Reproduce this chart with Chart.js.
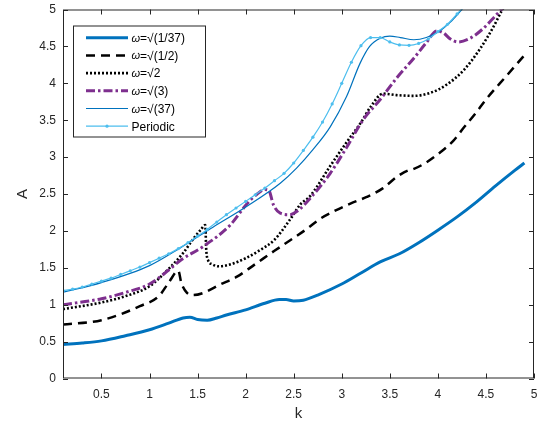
<!DOCTYPE html>
<html>
<head>
<meta charset="utf-8">
<script src="https://cdn.jsdelivr.net/npm/chart.js@4.4.0/dist/chart.umd.min.js"></script>
<style>
  html, body { margin: 0; padding: 0; background: #fff; }
</style>
</head>
<body>
<canvas id="amplitude-chart" width="541" height="430"></canvas>
<script>
// tick positions
const kTicks = [0.5, 1, 1.5, 2, 2.5, 3, 3.5, 4, 4.5, 5];
const aTicks = [0, 0.5, 1, 1.5, 2, 2.5, 3, 3.5, 4, 4.5, 5];

// legend labels
const seriesLabels = ["ω=√(1/37)", "ω=√(1/2)", "ω=√2", "ω=√(3)", "ω=√(37)", "Periodic"];

// omega = sqrt(1/37)
const k1 = [0.1, 0.3, 0.5, 0.75, 1.0, 1.2, 1.35, 1.42, 1.5, 1.6, 1.7, 1.8, 2.0, 2.2, 2.35, 2.42, 2.5, 2.6, 2.75, 3.0, 3.2, 3.4, 3.6, 3.8, 4.0, 4.2, 4.4, 4.6, 4.8, 4.9];
const a1 = [0.46, 0.48, 0.51, 0.58, 0.66, 0.75, 0.82, 0.83, 0.80, 0.79, 0.82, 0.86, 0.93, 1.02, 1.07, 1.07, 1.05, 1.06, 1.13, 1.28, 1.43, 1.58, 1.69, 1.84, 2.01, 2.19, 2.39, 2.61, 2.82, 2.92];

// omega = sqrt(1/2)
const k2 = [0.1, 0.5, 0.9, 1.1, 1.2, 1.3, 1.33, 1.39, 1.45, 1.56, 1.73, 1.91, 2.1, 2.3, 2.46, 2.64, 2.77, 2.91, 3.09, 3.26, 3.43, 3.57, 3.69, 3.73, 3.87, 4.02, 4.16, 4.27, 4.39, 4.5, 4.72, 4.9];
const a2 = [0.73, 0.79, 0.98, 1.12, 1.30, 1.46, 1.30, 1.16, 1.13, 1.16, 1.27, 1.38, 1.55, 1.73, 1.87, 2.03, 2.16, 2.26, 2.37, 2.46, 2.58, 2.73, 2.82, 2.83, 2.92, 3.06, 3.22, 3.40, 3.59, 3.78, 4.11, 4.38];

// omega = sqrt(2)
const k3 = [0.1, 0.5, 0.76, 1.0, 1.21, 1.35, 1.46, 1.53, 1.58, 1.59, 1.61, 1.65, 1.72, 1.85, 2.0, 2.15, 2.3, 2.46, 2.57, 2.67, 2.88, 3.05, 3.2, 3.3, 3.43, 3.57, 3.75, 3.92, 4.09, 4.27, 4.44, 4.58, 4.66, 4.75];
const a3 = [0.94, 1.03, 1.12, 1.25, 1.50, 1.70, 1.90, 2.01, 2.08, 1.75, 1.60, 1.55, 1.52, 1.55, 1.63, 1.74, 1.88, 2.15, 2.36, 2.47, 2.88, 3.20, 3.47, 3.68, 3.86, 3.84, 3.83, 3.87, 3.98, 4.18, 4.47, 4.77, 4.97, 5.15];

// omega = sqrt(3)
const k4 = [0.1, 0.5, 0.76, 1.0, 1.2, 1.32, 1.56, 1.84, 2.01, 2.12, 2.2, 2.24, 2.29, 2.36, 2.46, 2.55, 2.67, 2.88, 3.05, 3.225, 3.4, 3.57, 3.75, 3.88, 3.99, 4.06, 4.13, 4.21, 4.335, 4.47, 4.61, 4.7];
const a4 = [1.0, 1.08, 1.17, 1.28, 1.47, 1.60, 1.79, 2.08, 2.36, 2.50, 2.56, 2.55, 2.35, 2.24, 2.22, 2.28, 2.44, 2.78, 3.13, 3.51, 3.78, 4.07, 4.34, 4.55, 4.71, 4.68, 4.60, 4.56, 4.61, 4.74, 4.93, 5.05];

// omega = sqrt(37)
const k5 = [0.1, 0.5, 1.0, 1.32, 1.66, 2.01, 2.36, 2.53, 2.70, 2.88, 3.05, 3.19, 3.29, 3.40, 3.50, 3.61, 3.75, 3.88, 4.02, 4.13, 4.25, 4.3];
const a5 = [1.17, 1.30, 1.53, 1.77, 2.05, 2.33, 2.645, 2.85, 3.10, 3.41, 3.82, 4.27, 4.50, 4.61, 4.64, 4.62, 4.59, 4.62, 4.71, 4.83, 5.0, 5.07];

// periodic
const k6 = [0.1, 0.2, 0.3, 0.4, 0.5, 0.6, 0.7, 0.8, 0.9, 1.0, 1.1, 1.2, 1.3, 1.4, 1.5, 1.6, 1.7, 1.8, 1.9, 2.0, 2.1, 2.2, 2.3, 2.4, 2.5, 2.6, 2.7, 2.8, 2.9, 3.0, 3.1, 3.2, 3.3, 3.4, 3.5, 3.6, 3.7, 3.8, 3.9, 4.0, 4.1, 4.2, 4.3];
const a6 = [1.19, 1.21, 1.24, 1.28, 1.32, 1.36, 1.41, 1.46, 1.51, 1.57, 1.63, 1.69, 1.76, 1.84, 1.93, 2.02, 2.12, 2.22, 2.31, 2.40, 2.49, 2.58, 2.68, 2.78, 2.92, 3.09, 3.27, 3.475, 3.72, 4.0, 4.285, 4.51, 4.62, 4.62, 4.56, 4.52, 4.515, 4.54, 4.60, 4.70, 4.80, 4.94, 5.08];

const axisColor = "#262626";
const fontFamily = "'Liberation Sans', Arial, sans-serif";

function toPoints(ks, as) {
  return ks.map((k, i) => ({ x: k, y: as[i] }));
}

const styles = [
  { color: "#0072BD", width: 3, dash: [] },
  { color: "#000000", width: 2.5, dash: [9, 6] },
  { color: "#000000", width: 2.6, dash: [2, 2] },
  { color: "#7E2F8E", width: 3, dash: [9, 3, 2.5, 3] },
  { color: "#0072BD", width: 1.2, dash: [] },
  { color: "#4DBEEE", width: 1.2, dash: [] },
];

const series = [[k1, a1], [k2, a2], [k3, a3], [k4, a4], [k5, a5], [k6, a6]];

const datasets = series.map(([ks, as], i) => ({
  label: seriesLabels[i],
  data: toPoints(ks, as),
  borderColor: styles[i].color,
  backgroundColor: styles[i].color,
  borderWidth: styles[i].width,
  borderDash: styles[i].dash,
  pointRadius: i === 5 ? 1.6 : 0,
  pointBorderWidth: 0,
  pointBackgroundColor: styles[i].color,
  cubicInterpolationMode: "monotone",
  fill: false,
  order: 5 - i,
}));

// box, inward ticks and legend drawn inside the plot (MATLAB look)
const matlabFrame = {
  id: "matlabFrame",
  afterDraw(chart) {
    const { ctx, chartArea: area, scales } = chart;
    ctx.save();
    ctx.strokeStyle = axisColor;
    ctx.lineWidth = 1;
    ctx.setLineDash([]);
    ctx.strokeRect(area.left + 0.5, area.top + 0.5, area.width - 1, area.height - 1);

    const tick = 5;
    ctx.beginPath();
    scales.x.ticks.forEach((t) => {
      const px = Math.round(scales.x.getPixelForValue(t.value)) + 0.5;
      ctx.moveTo(px, area.bottom);
      ctx.lineTo(px, area.bottom - tick);
      ctx.moveTo(px, area.top);
      ctx.lineTo(px, area.top + tick);
    });
    scales.y.ticks.forEach((t) => {
      const py = Math.round(scales.y.getPixelForValue(t.value)) + 0.5;
      ctx.moveTo(area.left, py);
      ctx.lineTo(area.left + tick, py);
      ctx.moveTo(area.right, py);
      ctx.lineTo(area.right - tick, py);
    });
    ctx.stroke();

    // legend
    const bx = area.left + 10.5;
    const by = area.top + 16.5;
    const bw = 132;
    const bh = 111;
    ctx.fillStyle = "#ffffff";
    ctx.fillRect(bx, by, bw, bh);
    ctx.strokeStyle = axisColor;
    ctx.strokeRect(bx, by, bw, bh);

    chart.data.datasets.forEach((ds, i) => {
      const y = by + 11.7 + i * 17.7;
      const x0 = bx + 12.5;
      const x1 = bx + 54.5;
      ctx.strokeStyle = ds.borderColor;
      ctx.lineWidth = ds.borderWidth;
      ctx.setLineDash(ds.borderDash);
      ctx.beginPath();
      ctx.moveTo(x0, y);
      ctx.lineTo(x1, y);
      ctx.stroke();
      if (ds.pointRadius > 0) {
        ctx.fillStyle = ds.borderColor;
        ctx.beginPath();
        ctx.arc((x0 + x1) / 2, y, ds.pointRadius, 0, Math.PI * 2);
        ctx.fill();
      }
      ctx.setLineDash([]);
      ctx.fillStyle = "#000000";
      ctx.textBaseline = "middle";
      let tx = bx + 58;
      let text = ds.label;
      if (text.startsWith("ω")) {
        ctx.font = "italic 11px " + fontFamily;
        ctx.fillText("ω", tx, y + 1);
        tx += ctx.measureText("ω").width;
        text = text.slice(1);
      }
      ctx.font = "12px " + fontFamily;
      ctx.fillText(text, tx, y + 1);
    });
    ctx.restore();
  },
};

const chartCanvas = document.querySelector("#amplitude-chart").getContext("2d");

const myChart = new Chart(chartCanvas, {
  type: "line",
  data: { datasets },
  plugins: [matlabFrame],
  options: {
    responsive: false,
    animation: false,
    devicePixelRatio: 1,
    layout: { padding: { top: 9.5, right: 7, left: 0, bottom: 0 } },
    plugins: {
      legend: { display: false },
      tooltip: { enabled: false },
    },
    scales: {
      x: {
        type: "linear",
        min: 0.1,
        max: 5,
        afterBuildTicks: (scale) => {
          scale.ticks = kTicks.map((v) => ({ value: v }));
        },
        afterFit: (scale) => {
          scale.height = 51.5;
          scale.paddingRight = 0;
          scale.paddingLeft = 0;
        },
        ticks: {
          color: axisColor,
          font: { family: fontFamily, size: 12 },
          padding: 9,
          maxRotation: 0,
          autoSkip: false,
          callback: (v) => String(v),
        },
        grid: { display: false, drawTicks: false },
        border: { display: false },
        title: {
          display: true,
          text: "k",
          color: axisColor,
          font: { family: fontFamily, size: 15 },
          padding: { top: 0, bottom: 7 },
        },
      },
      y: {
        type: "linear",
        min: 0,
        max: 5,
        afterBuildTicks: (scale) => {
          scale.ticks = aTicks.map((v) => ({ value: v }));
        },
        afterFit: (scale) => {
          scale.width = 63;
          scale.paddingTop = 0;
          scale.paddingBottom = 0;
        },
        ticks: {
          color: axisColor,
          font: { family: fontFamily, size: 12 },
          padding: 7,
          autoSkip: false,
          callback: (v) => String(v),
        },
        grid: { display: false, drawTicks: false },
        border: { display: false },
        title: {
          display: true,
          text: "A",
          color: axisColor,
          font: { family: fontFamily, size: 15 },
          padding: { top: 14, bottom: 0 },
        },
      },
    },
  },
});
</script>
</body>
</html>
